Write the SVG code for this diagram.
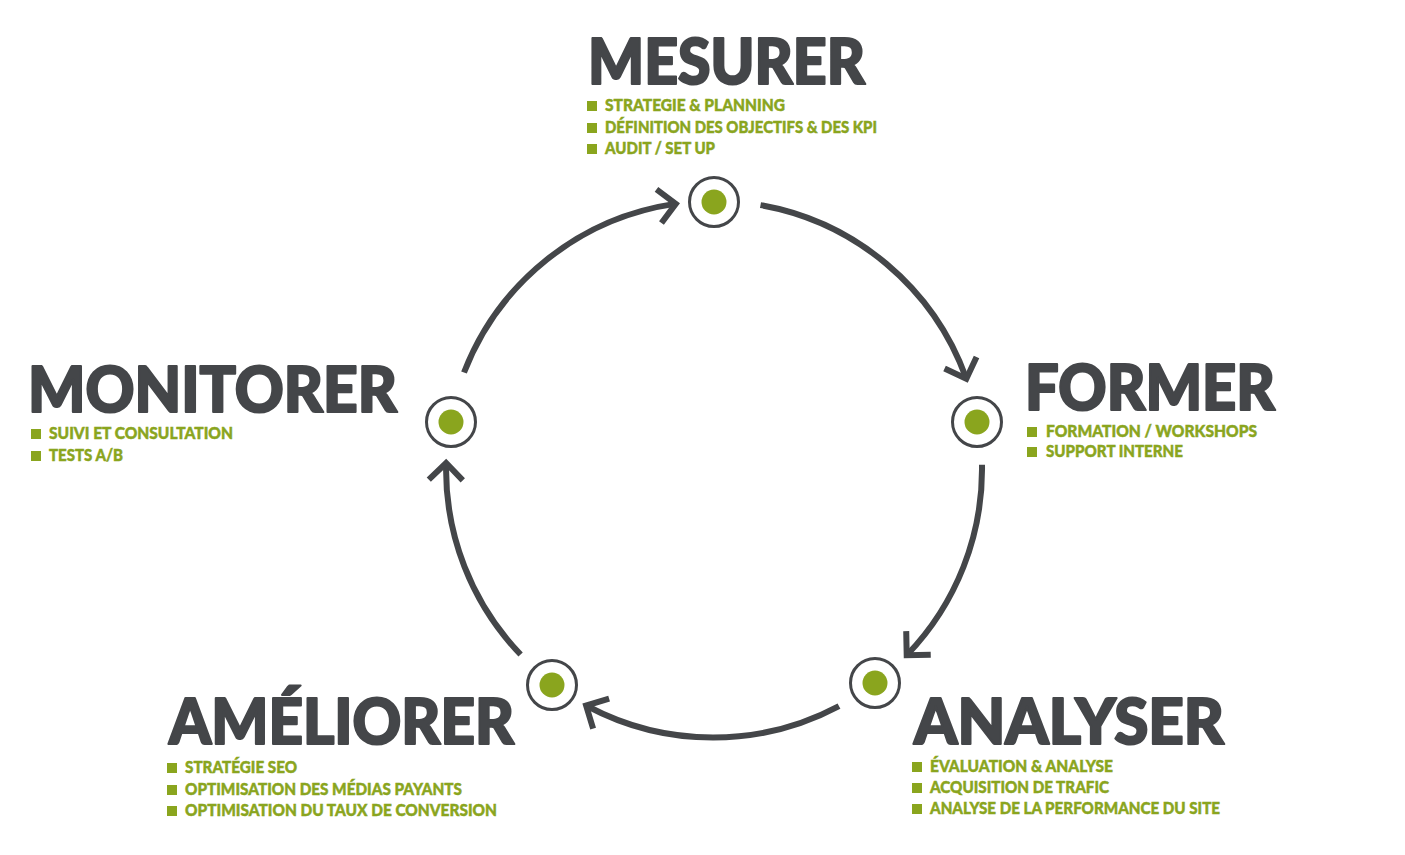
<svg xmlns="http://www.w3.org/2000/svg" width="1405" height="855" viewBox="0 0 1405 855">
<style>
.title{font-family:Lato,"Liberation Sans",sans-serif;font-weight:900;font-size:62px;fill:#444649;stroke:#444649;stroke-width:2.2;stroke-linejoin:round}
.item{font-family:Lato,"Liberation Sans",sans-serif;font-weight:900;font-size:16px;fill:#8aa51e;stroke:#8aa51e;stroke-width:0.45}
.bul{fill:#8aa51e}
.ring{fill:#fff;stroke:#444649;stroke-width:3}
.dot{fill:#8aa51e}
.arc{fill:none;stroke:#444649;stroke-width:6;marker-end:url(#chev)}
</style>
<defs>
<marker id="chev" markerUnits="userSpaceOnUse" markerWidth="50" markerHeight="50" viewBox="-25 -25 50 50" refX="0" refY="0" orient="auto">
<path d="M-16,-17 L1,0 L-16,17" fill="none" stroke="#444649" stroke-width="6"/>
</marker>
</defs>
<rect width="1405" height="855" fill="#fff"/>
<g id="connectors">
<path class="arc" d="M464,372.5 A268,268 0 0 1 674.8,203.9"/>
<path class="arc" d="M760.5,205.1 A268,268 0 0 1 966,377.8"/>
<path class="arc" d="M982,464.8 A268,268 0 0 1 907.4,654.5"/>
<path class="arc" d="M839,706.1 A268,268 0 0 1 587,706"/>
<path class="arc" d="M520.6,654.5 A268,268 0 0 1 446.1,464"/>
</g>
<g id="mesurer">
<circle class="ring" cx="714" cy="202" r="24.5"/>
<circle class="dot" cx="714" cy="202" r="12.5"/>
<text class="title" x="588" y="84" textLength="277" lengthAdjust="spacingAndGlyphs">MESURER</text>
<rect class="bul" x="587" y="101" width="10" height="10"/>
<text class="item" x="605" y="111" textLength="180" lengthAdjust="spacingAndGlyphs">STRATEGIE &amp; PLANNING</text>
<rect class="bul" x="587" y="123" width="10" height="10"/>
<text class="item" x="605" y="133" textLength="272" lengthAdjust="spacingAndGlyphs">DÉFINITION DES OBJECTIFS &amp; DES KPI</text>
<rect class="bul" x="587" y="144" width="10" height="10"/>
<text class="item" x="605" y="154" textLength="110" lengthAdjust="spacingAndGlyphs">AUDIT / SET UP</text>
</g>
<g id="former">
<circle class="ring" cx="977" cy="422" r="24.5"/>
<circle class="dot" cx="977" cy="422" r="12.5"/>
<text class="title" x="1025" y="410" textLength="250" lengthAdjust="spacingAndGlyphs">FORMER</text>
<rect class="bul" x="1027" y="427" width="10" height="10"/>
<text class="item" x="1046" y="437" textLength="211" lengthAdjust="spacingAndGlyphs">FORMATION / WORKSHOPS</text>
<rect class="bul" x="1027" y="447" width="10" height="10"/>
<text class="item" x="1046" y="457" textLength="137" lengthAdjust="spacingAndGlyphs">SUPPORT INTERNE</text>
</g>
<g id="analyser">
<circle class="ring" cx="875" cy="683" r="24.5"/>
<circle class="dot" cx="875" cy="683" r="12.5"/>
<text class="title" x="914" y="744" textLength="310" lengthAdjust="spacingAndGlyphs">ANALYSER</text>
<rect class="bul" x="912" y="762" width="10" height="10"/>
<text class="item" x="930" y="772" textLength="183" lengthAdjust="spacingAndGlyphs">ÉVALUATION &amp; ANALYSE</text>
<rect class="bul" x="912" y="783" width="10" height="10"/>
<text class="item" x="930" y="793" textLength="179" lengthAdjust="spacingAndGlyphs">ACQUISITION DE TRAFIC</text>
<rect class="bul" x="912" y="804" width="10" height="10"/>
<text class="item" x="930" y="814" textLength="290" lengthAdjust="spacingAndGlyphs">ANALYSE DE LA PERFORMANCE DU SITE</text>
</g>
<g id="ameliorer">
<circle class="ring" cx="552" cy="685" r="24.5"/>
<circle class="dot" cx="552" cy="685" r="12.5"/>
<text class="title" x="169" y="744" textLength="345" lengthAdjust="spacingAndGlyphs">AMÉLIORER</text>
<rect class="bul" x="167" y="763" width="10" height="10"/>
<text class="item" x="185" y="773" textLength="112" lengthAdjust="spacingAndGlyphs">STRATÉGIE SEO</text>
<rect class="bul" x="167" y="785" width="10" height="10"/>
<text class="item" x="185" y="795" textLength="277" lengthAdjust="spacingAndGlyphs">OPTIMISATION DES MÉDIAS PAYANTS</text>
<rect class="bul" x="167" y="806" width="10" height="10"/>
<text class="item" x="185" y="816" textLength="312" lengthAdjust="spacingAndGlyphs">OPTIMISATION DU TAUX DE CONVERSION</text>
</g>
<g id="monitorer">
<circle class="ring" cx="451" cy="422" r="24.5"/>
<circle class="dot" cx="451" cy="422" r="12.5"/>
<text class="title" x="28" y="412" textLength="369" lengthAdjust="spacingAndGlyphs">MONITORER</text>
<rect class="bul" x="31" y="429" width="10" height="10"/>
<text class="item" x="49" y="439" textLength="184" lengthAdjust="spacingAndGlyphs">SUIVI ET CONSULTATION</text>
<rect class="bul" x="31" y="451" width="10" height="10"/>
<text class="item" x="49" y="461" textLength="74" lengthAdjust="spacingAndGlyphs">TESTS A/B</text>
</g>
</svg>
